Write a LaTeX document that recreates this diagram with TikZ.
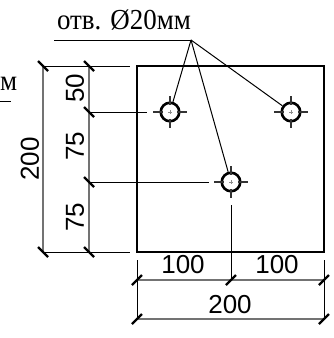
\documentclass[tikz,border=0pt]{standalone}
\usepackage{fontspec}
\setmainfont{Liberation Serif}
\newfontfamily\dimfont{Liberation Sans}
\newfontfamily\notefont[FakeStretch=0.93]{Liberation Serif}
\usetikzlibrary{positioning}
\tikzset{
	plate/.style={draw=black,line width=2.2pt},
	dimline/.style={draw=black!55,line width=1.5pt},
	extline/.style={draw=black,line width=1pt},
	leader/.style={draw=black,line width=1pt},
	tick/.style={draw=black,line width=2.4pt},
	hole/.style={circle,draw=black,line width=2.6pt,minimum size=18.5pt,inner sep=0pt},
	centerline/.style={draw=black!80,line width=1.1pt},
	centermark/.style={draw=black!45,line width=.8pt},
	dimtext/.style={font=\dimfont\fontsize{26}{26}\selectfont,inner sep=0pt},
	notetext/.style={font=\notefont\fontsize{29}{29}\selectfont,inner sep=0pt,anchor=base}
}
\begin{document}
\begin{tikzpicture}[x=1pt,y=-1pt]
		\useasboundingbox (0,0) rectangle (334,338);

		%plate
		\draw[plate] (137,66) rectangle (324,252);

		%holes
		\node[hole] (h1) at (170,112) {};
		\node[hole] (h2) at (291,112) {};
		\node[hole] (h3) at (231,182) {};

		%center lines
		\foreach \h in {h1,h2,h3} {
			\draw[centerline] (\h.center) ++(-17,0) -- ++(10,0) ++(14,0) -- ++(10,0);
			\draw[centerline] (\h.center) ++(0,-16) -- ++(0,9) ++(0,14) -- ++(0,9);
			\draw[centermark] (\h.center) ++(-2,0) -- ++(4,0);
			\draw[centermark] (\h.center) ++(0,-2) -- ++(0,4);
		}

		%extension lines, left
		\draw[extline] (43,66) -- (130,66);
		\draw[extline] (89,112) -- (147,112);
		\draw[extline] (89,182) -- (209,182);
		\draw[extline] (43,252) -- (130,252);

		%extension lines, bottom
		\draw[extline] (137,260) -- (137,319);
		\draw[extline] (231,205) -- (231,280);
		\draw[extline] (324,260) -- (324,319);

		%dimension lines
		\draw[dimline] (43,66) -- (43,252);
		\draw[dimline] (89,66) -- (89,252);
		\draw[dimline] (137,280) -- (324,280);
		\draw[dimline] (137,319) -- (324,319);

		%ticks
		\foreach \x/\y in {43/66,89/66,89/112,89/182,43/252,89/252}
			\draw[tick] (\x-5,\y-5) -- (\x+5,\y+5);
		\foreach \x/\y in {137/280,231/280,324/280,137/319,324/319}
			\draw[tick] (\x-5,\y+5) -- (\x+5,\y-5);

		%dimension labels
		\node[dimtext,rotate=90] (d50) at (75,88) {50};
		\node[dimtext,rotate=90] (d75a) at (75,146) {75};
		\node[dimtext,rotate=90] (d75b) at (75,217) {75};
		\node[dimtext,rotate=90] (d200a) at (30,159) {200};
		\node[dimtext] (d100a) at (183,265) {100};
		\node[dimtext] (d100b) at (277,265) {100};
		\node[dimtext] (d200b) at (230,305) {200};

		%note
		\node[notetext] (note) at (124,29) {отв. Ø20мм};
		\coordinate (apex) at (191,40);
		\draw[leader] (54,40) -- (apex);
		\draw[leader] (apex) -- (h1);
		\draw[leader] (apex) -- (h2);
		\draw[leader] (apex) -- (h3);

		%second note at the left edge
		\node[notetext,anchor=base west] (stub) at (0,90) {м};
		\draw[leader] (0,101) -- (11,101);

		\end{tikzpicture}
\end{document}
